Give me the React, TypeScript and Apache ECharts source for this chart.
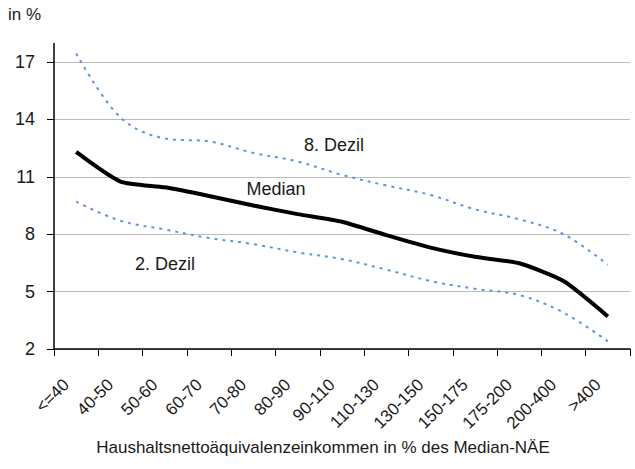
import React, { useEffect, useRef } from "react";
import * as echarts from "echarts";

const categories = ["<=40", "40-50", "50-60", "60-70", "70-80", "80-90", "90-110", "110-130", "130-150", "150-175", "175-200", "200-400", ">400"];
const median = [12.3, 10.75, 10.45, 10.0, 9.5, 9.05, 8.65, 7.95, 7.3, 6.82, 6.48, 5.55, 3.7];
const dezil8 = [17.45, 14.1, 13.0, 12.85, 12.25, 11.8, 11.1, 10.55, 10.05, 9.3, 8.78, 8.0, 6.4];
const dezil2 = [9.7, 8.7, 8.25, 7.8, 7.48, 7.05, 6.7, 6.15, 5.55, 5.15, 4.82, 3.9, 2.4];
const yTicks = { min: 2, max: 17, interval: 3 };

const FONT = "Liberation Sans, Arial, sans-serif";

export default function App() {
  const ref = useRef<HTMLDivElement>(null);
  useEffect(() => {
    if (!ref.current) return;
    const chart = echarts.init(ref.current, null, { renderer: "svg" });
    const blue = "#5f95dc";
    chart.setOption({
      animation: false,
      grid: { left: 54, right: 5, top: 62, bottom: 120, containLabel: false },
      xAxis: {
        type: "category",
        data: categories,
        boundaryGap: true,
        axisLine: { lineStyle: { color: "#000", width: 1.5 } },
        axisTick: { show: true, length: 7, lineStyle: { color: "#000", width: 1 } },
        axisLabel: { rotate: 45, margin: 23, padding: [0, 14, 0, 0], color: "#1a1a1a", fontSize: 17, fontFamily: FONT, interval: 0 },
        splitLine: { show: false },
      },
      yAxis: {
        type: "value",
        min: yTicks.min,
        max: yTicks.max,
        interval: yTicks.interval,
        axisLine: { show: true, lineStyle: { color: "#000", width: 1.5 } },
        axisTick: { show: true, length: 7, lineStyle: { color: "#000", width: 1 } },
        axisLabel: { margin: 19, color: "#1a1a1a", fontSize: 18, fontFamily: FONT },
        splitLine: { show: true, lineStyle: { color: "#bdbdbd", width: 1.2 } },
      },
      graphic: [
        { type: "line", shape: { x1: 54, y1: 43, x2: 54, y2: 62 }, style: { stroke: "#000", lineWidth: 1.5 } },
        { type: "text", left: 8, top: 6, style: { text: "in %", fontSize: 17, fontFamily: FONT, fill: "#1a1a1a" } },
        { type: "text", x: 323, y: 447, style: { text: "Haushaltsnettoäquivalenzeinkommen in % des Median-NÄE", fontSize: 17, fontFamily: FONT, fill: "#1a1a1a", align: "center", verticalAlign: "middle" } },
        { type: "text", x: 334, y: 145, style: { text: "8. Dezil", fontSize: 18, fontFamily: FONT, fill: "#1a1a1a", align: "center", verticalAlign: "middle" } },
        { type: "text", x: 276, y: 189, style: { text: "Median", fontSize: 18, fontFamily: FONT, fill: "#1a1a1a", align: "center", verticalAlign: "middle" } },
        { type: "text", x: 165, y: 264, style: { text: "2. Dezil", fontSize: 18, fontFamily: FONT, fill: "#1a1a1a", align: "center", verticalAlign: "middle" } },
      ],
      series: [
        { name: "8. Dezil", type: "line", data: dezil8, smooth: 0.35, symbol: "none", clip: false, lineStyle: { color: blue, width: 2, type: [3, 5] } },
        { name: "2. Dezil", type: "line", data: dezil2, smooth: 0.35, symbol: "none", clip: false, lineStyle: { color: blue, width: 2, type: [3, 5] } },
        { name: "Median", type: "line", data: median, smooth: 0.2, symbol: "none", clip: false, lineStyle: { color: "#000", width: 4 } },
      ],
    });
    return () => chart.dispose();
  }, []);
  return <div ref={ref} style={{ width: 635, height: 469, position: "absolute", left: 0, top: 0 }} />;
}
